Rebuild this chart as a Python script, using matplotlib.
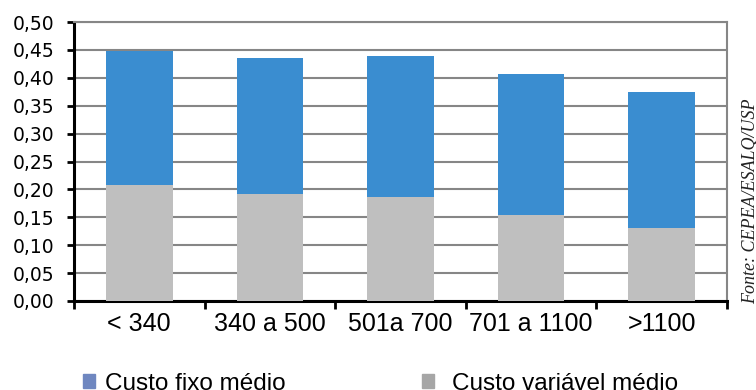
import matplotlib
matplotlib.use("Agg")
import matplotlib.pyplot as plt
from matplotlib.patches import Rectangle
import numpy as np

# custo médio por faixa de produção
categories = ["< 340", "340 a 500", "501a 700", "701 a 1100", ">1100"]
custo_variavel = [0.208, 0.192, 0.186, 0.154, 0.130]
custo_fixo = [0.240, 0.243, 0.253, 0.253, 0.245]
y_ticks = [0.00, 0.05, 0.10, 0.15, 0.20, 0.25, 0.30, 0.35, 0.40, 0.45, 0.50]
legend_labels = ["Custo fixo médio", "Custo variável médio"]

BLUE = "#3A8DD0"
GRAY = "#BFBFBF"
LEG_BLUE = "#6F87C0"
LEG_GRAY = "#A6A6A6"
GRID = "#868686"

W, H = 756, 390
fig = plt.figure(figsize=(W / 100, H / 100), dpi=100)
fig.patch.set_facecolor("white")


def fx(px):
    return px / W


def fy(py):
    # pixel rows counted from the top
    return (H - py) / H


# axes frame: left 74, right 727, top 22, bottom 301
ax = fig.add_axes([fx(74), fy(301), fx(653), 279 / H])

x = np.arange(len(categories))
width = 0.51
ax.bar(x, custo_variavel, width, color=GRAY, zorder=3)
ax.bar(x, custo_fixo, width, bottom=custo_variavel, color=BLUE, zorder=3)

ax.set_xlim(-0.5, len(categories) - 0.5)
ax.set_ylim(0, 0.5)
ax.set_yticks(y_ticks)
ax.set_yticklabels([f"{v:.2f}".replace(".", ",") for v in y_ticks])
ax.grid(axis="y", color=GRID, linewidth=1.5, zorder=0)
ax.set_axisbelow(True)

ax.set_xticks(x)
ax.set_xticklabels(categories, family="Liberation Sans")
ax.set_xticks(np.arange(-0.5, len(categories)), minor=True)
ax.tick_params(axis="x", which="major", length=0, pad=8, labelsize=18, labelcolor="black")
ax.tick_params(axis="x", which="minor", length=6, width=2, color="black", direction="out")
ax.tick_params(axis="y", length=5, width=2, color="black", direction="out", pad=9,
               labelsize=13.5, labelcolor="black")

for side in ("left", "bottom"):
    ax.spines[side].set_color("black")
    ax.spines[side].set_linewidth(2.2)
for side in ("top", "right"):
    ax.spines[side].set_color(GRID)
    ax.spines[side].set_linewidth(1.5)

# legenda, rente à borda inferior
for (sq_x, txt_x), color, label in zip([(83, 105), (422, 452)], [LEG_BLUE, LEG_GRAY], legend_labels):
    fig.patches.append(Rectangle((fx(sq_x), fy(388)), 12 / W, 14 / H,
                                 transform=fig.transFigure, color=color, clip_on=False))
    fig.text(fx(txt_x), fy(390.5), label, fontsize=17.5,
             family="Liberation Sans", va="baseline", ha="left")

fig.text(fx(751), fy(304), "Fonte: CEPEA/ESALQ/USP", rotation=90,
         ha="center", va="bottom", fontsize=13, style="italic",
         family="Liberation Serif", color="#222222")

fig.savefig("out.png", dpi=100, facecolor="white")
